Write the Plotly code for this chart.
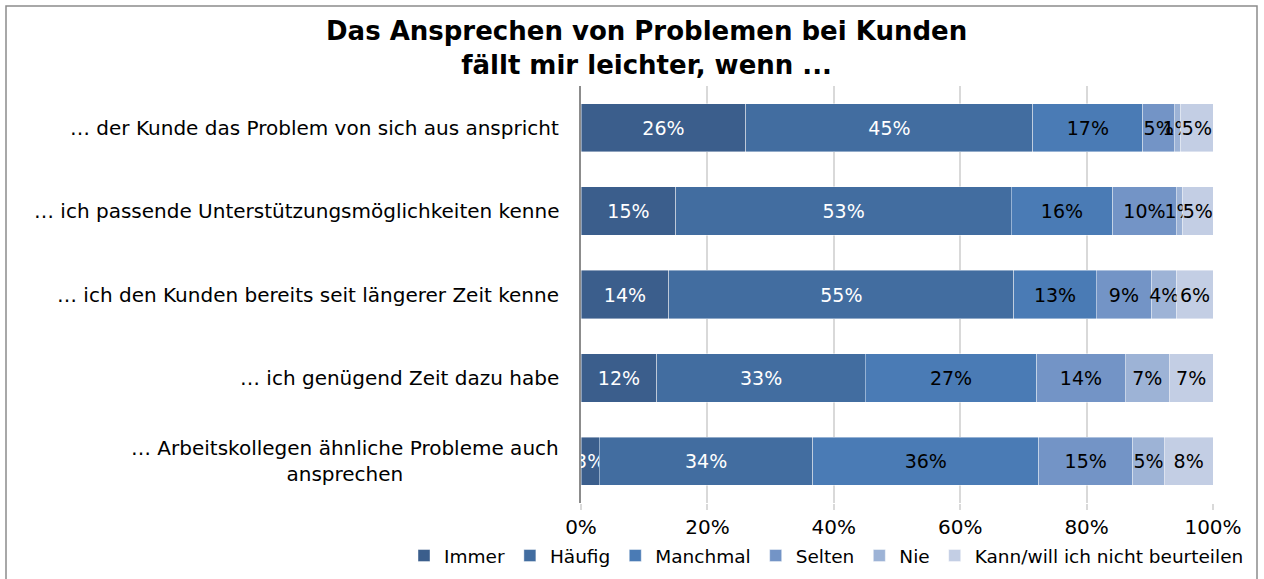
import plotly.graph_objects as go

categories = [
    "… der Kunde das Problem von sich aus anspricht",
    "… ich passende Unterstützungsmöglichkeiten kenne",
    "… ich den Kunden bereits seit längerer Zeit kenne",
    "… ich genügend Zeit dazu habe",
    "… Arbeitskollegen ähnliche Probleme auch<br>ansprechen",
]
series_names = ["Immer", "Häufig", "Manchmal", "Selten", "Nie", "Kann/will ich nicht beurteilen"]
immer = [26.1, 15.0, 13.9, 12.0, 2.9]
haeufig = [45.4, 53.1, 54.6, 33.0, 33.8]
manchmal = [17.4, 16.0, 13.0, 27.1, 35.7]
selten = [5.0, 10.1, 8.8, 14.0, 14.9]
nie = [1.0, 1.0, 4.0, 7.0, 5.0]
kann = [5.1, 4.8, 5.7, 6.9, 7.7]
series_values = [immer, haeufig, manchmal, selten, nie, kann]
tick_vals = [0, 20, 40, 60, 80, 100]
tick_text = ["0%", "20%", "40%", "60%", "80%", "100%"]

colors = ["#3B5E8C", "#426DA0", "#4A7BB5", "#7394C6", "#9DB3D6", "#C3CEE4"]
text_colors = ["white", "white", "black", "black", "black", "black"]

FONT = "DejaVu Sans"

fig = go.Figure()
for name, vals, col, tcol in zip(series_names, series_values, colors, text_colors):
    fig.add_trace(go.Bar(
        y=categories, x=vals, name=name, orientation="h",
        marker=dict(color=col, line=dict(color="rgba(255,255,255,0.6)", width=0.7)),
        texttemplate="%{x:.0f}%", textposition="inside", insidetextanchor="middle",
        textangle=0, constraintext="none",
        textfont=dict(color=tcol, size=19, family=FONT),
        cliponaxis=False,
    ))

L, R, T, B = 581, 51, 86, 76
W, H = 1264, 579
pw, ph = W - L - R, H - T - B

def px(x):
    return (x - L) / pw

def py(y):
    return (H - B - y) / ph

for cat in categories:
    fig.add_annotation(
        x=px(561), xref="paper", y=cat, yref="y", text=cat, showarrow=False,
        xanchor="right", yanchor="middle", align="center",
        font=dict(family=FONT, size=20, color="black"),
    )

fig.add_annotation(
    x=px(646), xref="paper", y=py(48), yref="paper",
    text="<b>Das Ansprechen von Problemen bei Kunden<br>fällt mir leichter, wenn ...</b>",
    showarrow=False, xanchor="center", yanchor="middle", align="center",
    font=dict(family=FONT, size=26, color="black"),
)

fig.add_shape(type="rect", xref="paper", yref="paper",
              x0=px(6), x1=px(1257), y0=py(580), y1=py(6),
              line=dict(color="#8C8C8C", width=1.5), fillcolor="rgba(0,0,0,0)", layer="below")

fig.update_layout(
    width=W, height=H, barmode="stack", bargap=0.42,
    margin=dict(l=L, r=R, t=T, b=B, pad=0, autoexpand=False),
    paper_bgcolor="white", plot_bgcolor="white",
    font=dict(family=FONT, size=18, color="black"),
    uniformtext=dict(minsize=19, mode="show"),
    showlegend=True,
    legend=dict(orientation="h", xref="paper", yref="paper",
                x=px(404), xanchor="left", y=py(556), yanchor="middle",
                font=dict(family=FONT, size=18.5), itemwidth=30, tracegroupgap=0,
                traceorder="normal", itemclick=False, bgcolor="rgba(0,0,0,0)"),
    xaxis=dict(range=[0, 100.0001], tickvals=tick_vals, ticktext=tick_text,
               showgrid=True, gridcolor="#D9D9D9", gridwidth=1.5, zeroline=False,
               ticks="outside", ticklen=6, tickcolor="#D9D9D9", tickwidth=1.5,
               showline=False, fixedrange=True, tickfont=dict(size=20, family=FONT)),
    yaxis=dict(autorange="reversed", showticklabels=False, showgrid=False,
               showline=True, linecolor="#8C8C8C", linewidth=1.5, zeroline=False,
               ticks="", fixedrange=True),
)

fig.write_html("out.html", config={"displayModeBar": False},
               post_script="document.body.style.margin='0';document.body.style.overflow='hidden';")
